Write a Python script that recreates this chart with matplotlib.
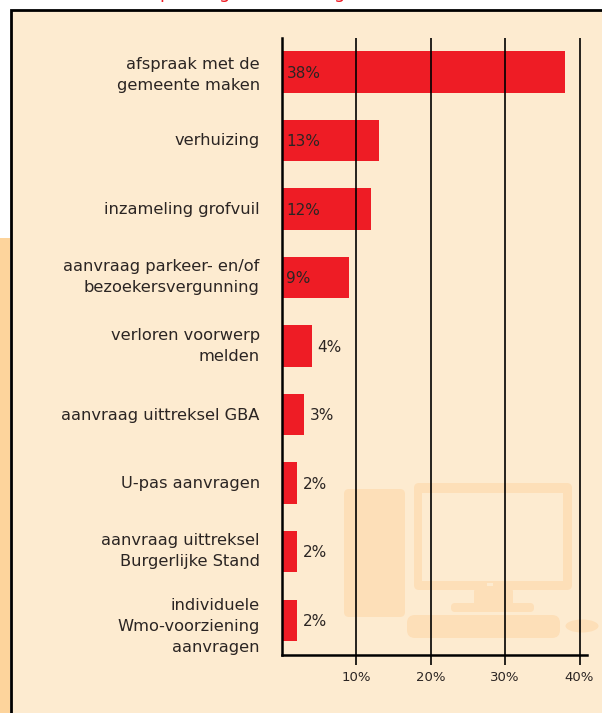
import matplotlib
matplotlib.use('Agg')
import matplotlib.pyplot as plt
from matplotlib.patches import Rectangle, FancyBboxPatch, Ellipse
from matplotlib.transforms import ScaledTranslation

categories = [
    'afspraak met de\ngemeente maken',
    'verhuizing',
    'inzameling grofvuil',
    'aanvraag parkeer- en/of\nbezoekersvergunning',
    'verloren voorwerp\nmelden',
    'aanvraag uittreksel GBA',
    'U-pas aanvragen',
    'aanvraag uittreksel\nBurgerlijke Stand',
    'individuele\nWmo-voorziening\naanvragen',
]
values = [38, 13, 12, 9, 4, 3, 2, 2, 2]
ticks = [10, 20, 30, 40]

W, H = 602, 713
PANEL = '#fdebd0'
ICON = '#fddfb8'
RED = '#ee1c25'
INK = '#2b2523'

plt.rcParams['font.family'] = ['DejaVu Sans']

fig = plt.figure(figsize=(W / 100, H / 100), dpi=100, facecolor='white')

# page layer in pixel coordinates, y going down
bg = fig.add_axes([0, 0, 1, 1])
bg.set_xlim(0, W)
bg.set_ylim(H, 0)
bg.set_axis_off()
bg.add_patch(Rectangle((0, 238), 10, H - 238, color='#fdd49c', lw=0))
bg.add_patch(Rectangle((11, 10), W, H, facecolor=PANEL, edgecolor='black', lw=2))

# bottom of the heading that is cut off by the crop
for x, c in [(165, 'p'), (225, 'g'), (340, 'g')]:
    bg.text(x, -2, c, color=RED, fontsize=13, ha='center', va='baseline')


def blob(x, y, w, h, r=5, color=ICON):
    bg.add_patch(FancyBboxPatch((x + r, y + r), w - 2 * r, h - 2 * r,
                                boxstyle=f'round,pad={r}', color=color, lw=0))


# computer picture behind the chart
blob(344, 489, 61, 128)
blob(414, 483, 158, 107)
blob(422, 493, 141, 88, r=0, color=PANEL)
blob(487, 583, 6, 3, r=0, color=PANEL)
blob(474, 590, 39, 20, r=1)
blob(451, 603, 83, 9, r=4)
blob(407, 615, 153, 23, r=8)
bg.add_patch(Ellipse((582, 626), 33, 13, color=ICON, lw=0))

# chart
ax = fig.add_axes([282 / W, 1 - 655 / H, (587 - 282) / W, (655 - 38) / H])
ax.patch.set_alpha(0)
ax.set_xlim(0, 41)
ax.set_ylim(8.51, -0.496)

ax.barh(range(len(values)), values, height=0.6, color=RED, zorder=2)
for t in ticks:
    ax.axvline(t, color='black', lw=1.2, zorder=3)

for i, v in enumerate(values):
    if v > 5:
        ax.text(0.6, i + 0.02, f'{v}%', va='center', ha='left', fontsize=11, color=INK, zorder=4)
    else:
        ax.text(v + 0.8, i + 0.02, f'{v}%', va='center', ha='left', fontsize=11, color=INK, zorder=4)

ax.set_yticks(range(len(categories)))
ax.set_yticklabels(categories, fontsize=11.7, color=INK, linespacing=1.5, ha='right')
ax.tick_params(axis='y', length=0, pad=16)
ax.set_xticks(ticks)
ax.set_xticklabels([f'{t}%' for t in ticks], fontsize=9.5, color=INK)
ax.tick_params(axis='x', length=7, width=1.2, pad=4.5, direction='out')

# the labels do not sit exactly on the bar centres in the original (pixels down)
for i, dy in enumerate([-1, -1, -1, -5, -5, -1, -1, -5, 2]):
    lab = ax.get_yticklabels()[i]
    lab.set_transform(lab.get_transform() + ScaledTranslation(0, -dy / 100, fig.dpi_scale_trans))

for s in ['top', 'right']:
    ax.spines[s].set_visible(False)
ax.spines['left'].set_linewidth(1.8)
ax.spines['bottom'].set_linewidth(1.8)

plt.savefig('out.png', dpi=100)
